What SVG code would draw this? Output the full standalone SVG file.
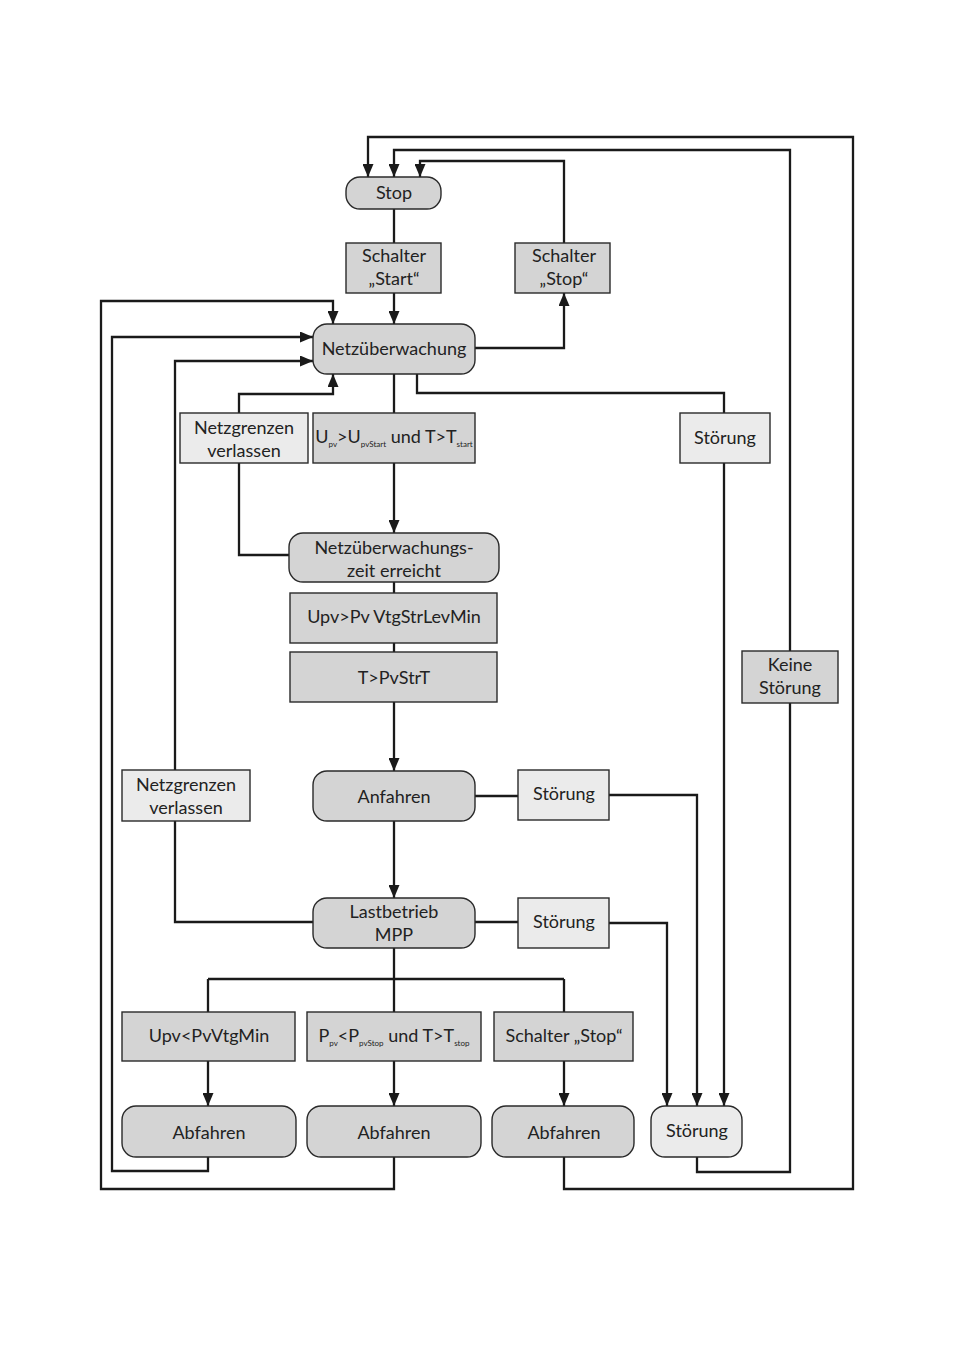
<svg xmlns="http://www.w3.org/2000/svg" width="954" height="1351" viewBox="0 0 954 1351">
<defs>
<marker id="arr" markerUnits="userSpaceOnUse" markerWidth="13" markerHeight="11" viewBox="0 0 13 11" refX="13" refY="5.5" orient="auto">
<path d="M0,0 L13,5.5 L0,11 z" fill="#1a1a1a"/>
</marker>
<style>
.c{fill:none;stroke:#1a1a1a;stroke-width:2.3}
.a{marker-end:url(#arr)}
.d{fill:#d4d4d4;stroke:#2a2a2a;stroke-width:1.4}
.l{fill:#ebebeb;stroke:#2a2a2a;stroke-width:1.4}
text{font-family:Lato,"Liberation Sans",sans-serif;font-size:18px;fill:#222;text-anchor:middle}
.s{font-size:8px}
</style>
</defs>
<rect width="954" height="1351" fill="#fff"/>
<g id="connectors">
<path class="c a" d="M564,1157 V1189 H853 V137 H368 V177"/>
<path class="c a" d="M697,1157 V1172 H790 V150 H394 V177"/>
<path class="c a" d="M564,243 V161 H420 V177"/>
<path class="c a" d="M475,348 H564 V293"/>
<path class="c" d="M394,209 V243"/>
<path class="c a" d="M394,293 V324"/>
<path class="c a" d="M394,1157 V1189 H101 V301 H333 V324"/>
<path class="c a" d="M208,1157 V1171 H112 V337 H313"/>
<path class="c a" d="M313,922 H175 V361 H313"/>
<path class="c a" d="M289,555 H239 V394 H333 V374"/>
<path class="c a" d="M394,374 V533"/>
<path class="c a" d="M417,374 V393 H724 V1106"/>
<path class="c a" d="M394,582 V771"/>
<path class="c" d="M475,796 H518"/>
<path class="c a" d="M609,795 H697 V1106"/>
<path class="c" d="M475,922 H518"/>
<path class="c a" d="M609,923 H667 V1106"/>
<path class="c a" d="M394,821 V898"/>
<path class="c" d="M394,948 V979 M208,979 H564"/>
<path class="c" d="M208,979 V1012 M394,979 V1012 M564,979 V1012"/>
<path class="c a" d="M208,1061 V1106"/>
<path class="c a" d="M394,1061 V1106"/>
<path class="c a" d="M564,1061 V1106"/>
</g>
<g id="stop"><rect class="d" x="346" y="177" width="95" height="32" rx="14"/><text x="394" y="199">Stop</text></g>
<g id="schalter-start"><rect class="d" x="346" y="243" width="95" height="50"/><text x="394" y="262">Schalter</text><text x="394" y="285">„Start“</text></g>
<g id="schalter-stop-top"><rect class="d" x="515" y="243" width="95" height="50"/><text x="564" y="262">Schalter</text><text x="564" y="285">„Stop“</text></g>
<g id="netzueberwachung"><rect class="d" x="313" y="324" width="162" height="50" rx="14"/><text x="394" y="355">Netzüberwachung</text></g>
<g id="netzgrenzen1"><rect class="l" x="180" y="413" width="128" height="50"/><text x="244" y="434">Netzgrenzen</text><text x="244" y="457">verlassen</text></g>
<g id="upv-start"><rect class="d" x="313" y="413" width="162" height="50"/><text x="394" y="443">U<tspan class="s" dy="4">pv</tspan><tspan dy="-4">&gt;U</tspan><tspan class="s" dy="4">pvStart</tspan><tspan dy="-4"> und T&gt;T</tspan><tspan class="s" dy="4">start</tspan></text></g>
<g id="stoerung1"><rect class="l" x="680" y="413" width="90" height="50"/><text x="725" y="444">Störung</text></g>
<g id="netzzeit"><rect class="l" x="289" y="533" width="210" height="49" rx="14" style="fill:#d4d4d4"/><text x="394" y="554">Netzüberwachungs-</text><text x="394" y="577">zeit erreicht</text></g>
<g id="upv-vtgstr"><rect class="d" x="290" y="593" width="207" height="50"/><text x="394" y="623">Upv&gt;Pv VtgStrLevMin</text></g>
<g id="pvstrt"><rect class="d" x="290" y="652" width="207" height="50"/><text x="394" y="684">T&gt;PvStrT</text></g>
<g id="keine-stoerung"><rect class="d" x="742" y="651" width="96" height="52"/><text x="790" y="671">Keine</text><text x="790" y="694">Störung</text></g>
<g id="netzgrenzen2"><rect class="l" x="122" y="770" width="128" height="51"/><text x="186" y="791">Netzgrenzen</text><text x="186" y="814">verlassen</text></g>
<g id="anfahren"><rect class="d" x="313" y="771" width="162" height="50" rx="14"/><text x="394" y="803">Anfahren</text></g>
<g id="stoerung2"><rect class="l" x="518" y="770" width="91" height="50"/><text x="564" y="800">Störung</text></g>
<g id="lastbetrieb"><rect class="d" x="313" y="898" width="162" height="50" rx="14"/><text x="394" y="918">Lastbetrieb</text><text x="394" y="941">MPP</text></g>
<g id="stoerung3"><rect class="l" x="518" y="898" width="91" height="50"/><text x="564" y="928">Störung</text></g>
<g id="upv-vtgmin"><rect class="d" x="122" y="1012" width="173" height="49"/><text x="209" y="1042">Upv&lt;PvVtgMin</text></g>
<g id="ppv-stop"><rect class="d" x="307" y="1012" width="174" height="49"/><text x="394" y="1042">P<tspan class="s" dy="4">pv</tspan><tspan dy="-4">&lt;P</tspan><tspan class="s" dy="4">pvStop</tspan><tspan dy="-4"> und T&gt;T</tspan><tspan class="s" dy="4">stop</tspan></text></g>
<g id="schalter-stop-bottom"><rect class="d" x="494" y="1012" width="139" height="49"/><text x="564" y="1042">Schalter „Stop“</text></g>
<g id="abfahren1"><rect class="d" x="122" y="1106" width="174" height="51" rx="14"/><text x="209" y="1139">Abfahren</text></g>
<g id="abfahren2"><rect class="d" x="307" y="1106" width="174" height="51" rx="14"/><text x="394" y="1139">Abfahren</text></g>
<g id="abfahren3"><rect class="d" x="492" y="1106" width="142" height="51" rx="14"/><text x="564" y="1139">Abfahren</text></g>
<g id="stoerung-node"><rect class="l" x="651" y="1106" width="91" height="51" rx="14"/><text x="697" y="1137">Störung</text></g>
</svg>
